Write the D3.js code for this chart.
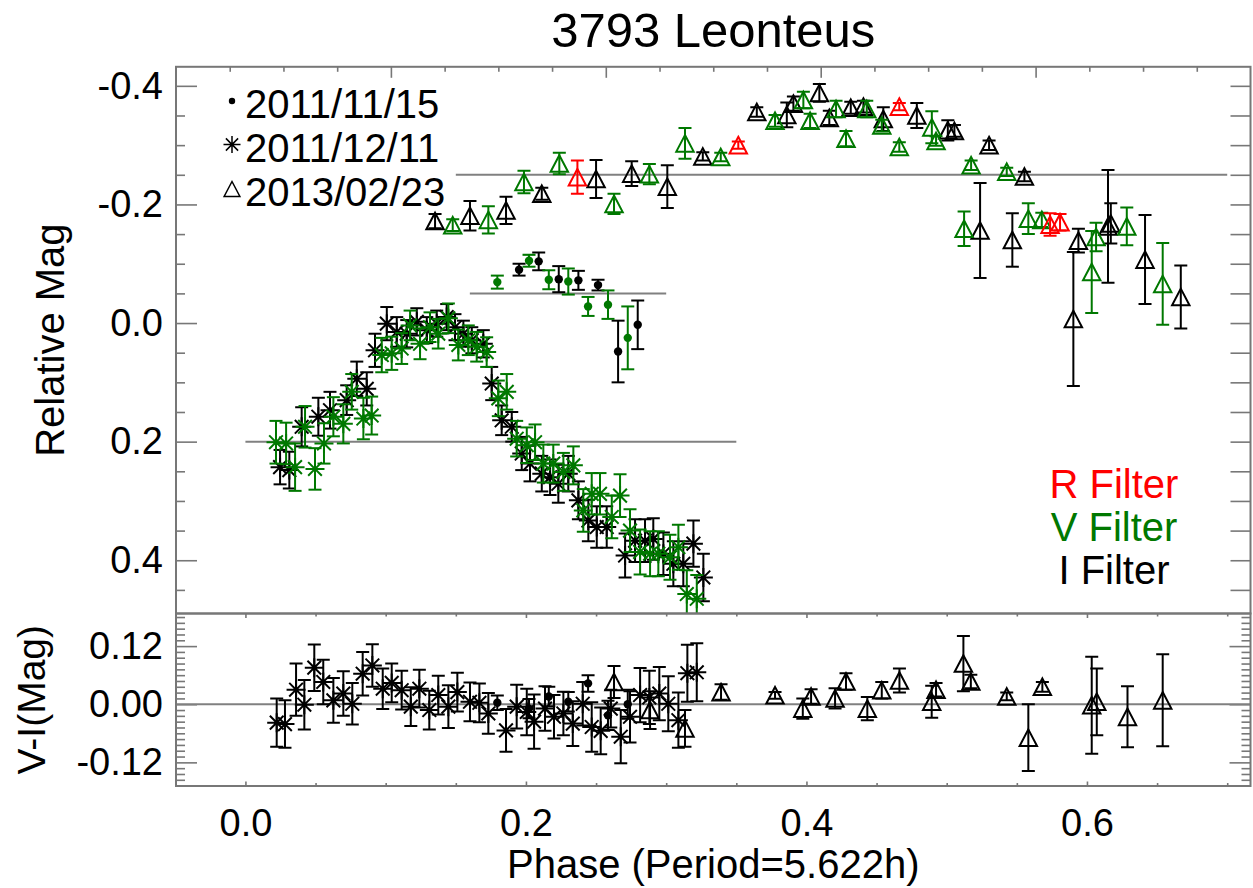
<!DOCTYPE html>
<html><head><meta charset="utf-8">
<script src="https://cdn.jsdelivr.net/npm/d3@7/dist/d3.min.js"></script>
<style>
body{margin:0;background:#fff}
svg{display:block}
text{font-family:"Liberation Sans",Arial,Helvetica,sans-serif;fill:#000}
</style>
</head><body>
<svg id="c" width="1253" height="888"></svg>
<script>
// ---------------- DATA ----------------
// 2011/12/11 (asterisks) — I filter
const astI_phase=[0.0247,0.0313,0.0401,0.052,0.0603,0.0722,0.0794,0.0865,0.0924,0.1008,0.1079,0.115,0.1222,0.1293,0.1364,0.1435,0.1494,0.1554,0.1614,0.1696,0.1756,0.1827,0.1899,0.197,0.2029,0.2113,0.2172,0.2231,0.2302,0.2374,0.2445,0.2505,0.2576,0.2707,0.2778,0.2849,0.2908,0.298,0.3051,0.3122,0.3194,0.3265];
const astI_mag=[0.243,0.248,0.175,0.158,0.147,0.130,0.094,0.111,0.046,0.001,0.015,0.018,-0.002,0.012,0.001,-0.010,0.007,0.018,0.029,0.035,0.102,0.164,0.175,0.220,0.237,0.254,0.260,0.271,0.254,0.299,0.333,0.344,0.344,0.392,0.367,0.367,0.364,0.389,0.406,0.406,0.372,0.429];
const astI_err=[0.029,0.031,0.033,0.032,0.031,0.025,0.029,0.028,0.028,0.028,0.025,0.023,0.023,0.022,0.022,0.022,0.022,0.022,0.022,0.023,0.028,0.025,0.025,0.028,0.03,0.03,0.03,0.032,0.03,0.032,0.035,0.035,0.035,0.037,0.036,0.036,0.035,0.036,0.038,0.038,0.039,0.04];
// 2011/12/11 (asterisks) — V filter
const astV_phase=[0.0218,0.029,0.0354,0.0425,0.0496,0.056,0.0627,0.0698,0.0758,0.0841,0.090,0.0972,0.1043,0.1114,0.1174,0.1245,0.1316,0.1375,0.1447,0.1518,0.1589,0.1649,0.172,0.1803,0.1863,0.1934,0.2006,0.2065,0.2124,0.2195,0.2267,0.2338,0.2409,0.2469,0.2528,0.2612,0.2671,0.2742,0.2814,0.2885,0.2944,0.3027,0.3087,0.3147,0.3218];
const astV_mag=[0.201,0.203,0.243,0.175,0.246,0.203,0.158,0.170,0.116,0.161,0.156,0.054,0.051,0.043,0.004,0.035,0.007,0.018,-0.008,0.037,0.029,0.040,0.049,0.127,0.116,0.195,0.206,0.201,0.237,0.237,0.251,0.240,0.316,0.288,0.288,0.327,0.291,0.350,0.386,0.389,0.389,0.395,0.378,0.457,0.465];
const astV_err=[0.036,0.035,0.04,0.035,0.035,0.034,0.033,0.033,0.03,0.035,0.032,0.029,0.028,0.026,0.025,0.026,0.025,0.025,0.025,0.026,0.025,0.025,0.025,0.03,0.03,0.03,0.03,0.03,0.032,0.032,0.032,0.032,0.036,0.035,0.035,0.036,0.036,0.036,0.038,0.038,0.038,0.038,0.038,0.04,0.04];
// 2011/11/15 (dots)
const dotI_phase=[0.1951,0.2091,0.2234,0.2374,0.2514,0.2657,0.2797];
const dotI_mag=[-0.090,-0.104,-0.074,-0.072,-0.064,0.048,0.003];
const dotI_err=[0.010,0.015,0.022,0.016,0.009,0.052,0.041];
const dotV_phase=[0.1796,0.2022,0.2163,0.2302,0.2443,0.2585,0.2726];
const dotV_mag=[-0.069,-0.105,-0.073,-0.070,-0.028,-0.031,0.025];
const dotV_err=[0.011,0.010,0.016,0.022,0.016,0.024,0.053];
// 2013/02/23 (triangles)
const triI_phase=[0.1352,0.1601,0.1858,0.2113,0.25,0.2754,0.3008,0.3261,0.3646,0.386,0.3907,0.4092,0.4163,0.4316,0.4406,0.4548,0.4787,0.5008,0.5055,0.5302,0.5554,0.5238,0.5468,0.5903,0.5939,0.615,0.617,0.6414,0.6669];
const triI_mag=[-0.172,-0.181,-0.190,-0.218,-0.243,-0.252,-0.230,-0.281,-0.356,-0.351,-0.370,-0.388,-0.346,-0.363,-0.365,-0.344,-0.350,-0.325,-0.324,-0.300,-0.247,-0.156,-0.140,-0.007,-0.139,-0.163,-0.168,-0.107,-0.044];
const triI_err=[0.012,0.025,0.023,0.010,0.032,0.021,0.036,0.007,0.008,0.021,0.012,0.015,0.012,0.010,0.010,0.020,0.021,0.017,0.010,0.008,0.008,0.080,0.045,0.113,0.020,0.095,0.034,0.075,0.053];
const triV_phase=[0.1478,0.1732,0.1986,0.2238,0.2628,0.288,0.3134,0.3389,0.3776,0.3978,0.4026,0.4211,0.4282,0.443,0.4537,0.4662,0.4894,0.4924,0.5124,0.5174,0.5428,0.5582,0.5678,0.6034,0.6065,0.6284,0.654];
const triV_mag=[-0.165,-0.174,-0.238,-0.269,-0.201,-0.251,-0.303,-0.280,-0.341,-0.376,-0.341,-0.361,-0.311,-0.361,-0.333,-0.297,-0.330,-0.307,-0.159,-0.266,-0.255,-0.176,-0.174,-0.086,-0.145,-0.163,-0.066];
const triV_err=[0.010,0.023,0.019,0.018,0.017,0.017,0.026,0.007,0.010,0.014,0.012,0.014,0.013,0.014,0.010,0.008,0.027,0.008,0.029,0.008,0.007,0.026,0.012,0.069,0.024,0.032,0.069];
const triR_phase=[0.2367,0.3514,0.4662,0.5737,0.5808];
const triR_mag=[-0.246,-0.300,-0.365,-0.166,-0.170];
const triR_err=[0.028,0.006,0.006,0.019,0.014];
// V-I colours
const viAst_phase=[0.0223,0.0282,0.0361,0.042,0.0491,0.0555,0.0627,0.0698,0.0762,0.0836,0.0905,0.0979,0.1043,0.1114,0.1179,0.124,0.1311,0.1375,0.1447,0.1511,0.1601,0.1668,0.1732,0.1858,0.1934,0.2006,0.2058,0.2136,0.22,0.2267,0.2334,0.2405,0.2469,0.2533,0.2605,0.2676,0.2742,0.2814,0.288,0.2951,0.3015,0.3087,0.3151,0.3218];
const viAst_val=[-0.038,-0.041,0.030,-0.001,0.0755,0.046,0.008,0.022,0.001,0.063,0.080,0.032,0.044,0.029,-0.005,0.032,-0.012,0.019,-0.005,0.025,0.005,0.003,-0.019,-0.054,-0.005,-0.016,-0.036,-0.009,-0.026,-0.019,-0.040,0.001,-0.047,-0.055,-0.009,-0.067,-0.026,0.019,0.014,0.022,0.001,-0.033,0.064,0.066];
const viAst_err=[0.050,0.049,0.054,0.051,0.048,0.046,0.046,0.046,0.043,0.045,0.044,0.042,0.040,0.040,0.040,0.039,0.040,0.040,0.044,0.040,0.040,0.040,0.042,0.044,0.045,0.048,0.056,0.046,0.045,0.045,0.046,0.045,0.051,0.048,0.039,0.055,0.053,0.056,0.055,0.055,0.057,0.057,0.059,0.060];
const viDot_phase=[0.1796,0.2022,0.2163,0.2302,0.2443,0.2585,0.2726];
const viDot_val=[0.003,-0.009,0.016,0.005,0.043,-0.023,0.000];
const viDot_err=[0.015,0.020,0.020,0.020,0.017,0.030,0.030];
const viTri_phase=[0.2628,0.2885,0.3134,0.3391,0.3776,0.3974,0.4033,0.4204,0.4282,0.4434,0.4537,0.4663,0.4893,0.4924,0.5119,0.5172,0.5428,0.5582,0.5682,0.6034,0.607,0.6289,0.654];
const viTri_val=[0.046,-0.012,-0.050,0.025,0.0185,-0.009,0.016,0.012,0.047,-0.009,0.029,0.049,0.005,0.030,0.084,0.047,0.016,-0.069,0.036,-0.002,0.005,-0.026,0.008];
const viTri_err=[0.033,0.039,0.038,0.016,0.007,0.021,0.015,0.021,0.017,0.024,0.017,0.025,0.033,0.014,0.057,0.014,0.008,0.069,0.010,0.100,0.069,0.063,0.095];
// reference (mean) lines per night
const refStart=[0.0,0.16,0.15];
const refEnd=[0.35,0.30,0.70];
const refMag=[0.2,-0.05,-0.25];
// ticks / labels
const xTickVals=[0.0,0.2,0.4,0.6];
const yTopTickVals=[-0.4,-0.2,0.0,0.2,0.4];
const yLowTickVals=[-0.12,0.0,0.12];
const legendLabels=["2011/11/15","2011/12/11","2013/02/23"];
const filterLabels=["R Filter","V Filter","I Filter"];
const filterColors=["#ff0000","#007800","#000000"];
const titleText="3793 Leonteus";

// ---------------- LAYOUT ----------------
const L=176,R=1250.5,T=66.8,MID=613.5,B=786;
const AX="#777";
const GREEN="#007800";
const svg=d3.select("#c");
const x=d3.scaleLinear().domain([-0.0495,0.7166]).range([L,R]);
const xTop=d3.scaleLinear().domain([0,1]).range([L,R]);
const yTop=d3.scaleLinear().domain([-0.4321,0.4898]).range([T,MID]);
const yLow=d3.scaleLinear().domain([0.1873,-0.1688]).range([MID,B]);

const defs=svg.append("defs");
defs.append("clipPath").attr("id","cTop").append("rect").attr("x",L).attr("y",T).attr("width",R-L).attr("height",MID-T);
defs.append("clipPath").attr("id","cLow").append("rect").attr("x",L).attr("y",MID).attr("width",R-L).attr("height",B-MID);

function range(a,b,s){const r=[];for(let v=a;v<=b+1e-9;v+=s)r.push(+v.toFixed(4));return r;}
function styleAxis(g){g.select(".domain").remove();g.selectAll(".tick line").attr("stroke",AX).attr("stroke-width",1.6);g.selectAll("text").style("font-size","38px").attr("fill","#000");}
const fmt1=v=>d3.format(".1f")(v).replace("\u2212","-");
const fmt2=v=>d3.format(".2f")(v).replace("\u2212","-");

// ---- axes top panel ----
svg.append("g").attr("transform",`translate(${L},0)`).call(d3.axisLeft(yTop).tickValues(yTopTickVals).tickSize(-21).tickPadding(13).tickFormat(fmt1)).call(styleAxis);
svg.append("g").attr("transform",`translate(${L},0)`).call(d3.axisLeft(yTop).tickValues(range(-0.4,0.45,0.05).filter(v=>Math.abs(v*5-Math.round(v*5))>1e-6)).tickSize(-9).tickFormat("")).call(styleAxis);
svg.append("g").attr("transform",`translate(${R},0)`).call(d3.axisRight(yTop).tickValues(range(-0.4,0.45,0.05)).tickSize(-20).tickFormat("")).call(styleAxis);
svg.append("g").attr("transform",`translate(0,${T})`).call(d3.axisTop(xTop).tickValues([0.2,0.4,0.6,0.8]).tickSize(-11).tickFormat("")).call(styleAxis);
svg.append("g").attr("transform",`translate(0,${T})`).call(d3.axisTop(xTop).tickValues(range(0.05,0.95,0.05).filter(v=>Math.abs(v*5-Math.round(v*5))>1e-6)).tickSize(-5).tickFormat("")).call(styleAxis);

// ---- axes lower panel ----
svg.append("g").attr("transform",`translate(${L},0)`).call(d3.axisLeft(yLow).tickValues(yLowTickVals).tickSize(-21).tickPadding(13).tickFormat(fmt2)).call(styleAxis);
const lowMinor=range(-0.168,0.18,0.012).filter(v=>Math.abs(v/0.12-Math.round(v/0.12))>1e-6);
svg.append("g").attr("transform",`translate(${L},0)`).call(d3.axisLeft(yLow).tickValues(lowMinor).tickSize(-9).tickFormat("")).call(styleAxis);
svg.append("g").attr("transform",`translate(${R},0)`).call(d3.axisRight(yLow).tickValues(yLowTickVals).tickSize(-21).tickFormat("")).call(styleAxis);
svg.append("g").attr("transform",`translate(${R},0)`).call(d3.axisRight(yLow).tickValues(lowMinor).tickSize(-9).tickFormat("")).call(styleAxis);
const xMinor=range(-0.05,0.7,0.05).filter(v=>Math.abs(v*5-Math.round(v*5))>1e-6 && v>-0.049);
svg.append("g").attr("transform",`translate(0,${B})`).call(d3.axisBottom(x).tickValues(xTickVals).tickSize(-4.5).tickPadding(23).tickFormat(fmt1)).call(styleAxis);
svg.append("g").attr("transform",`translate(0,${B})`).call(d3.axisBottom(x).tickValues(xMinor).tickSize(-3).tickFormat("")).call(styleAxis);
svg.append("g").attr("transform",`translate(0,${MID})`).call(d3.axisTop(x).tickValues(xTickVals).tickSize(-4.5).tickFormat("")).call(styleAxis);
svg.append("g").attr("transform",`translate(0,${MID})`).call(d3.axisTop(x).tickValues(xMinor).tickSize(-3).tickFormat("")).call(styleAxis);

// ---- reference lines ----
const gTop=svg.append("g").attr("clip-path","url(#cTop)");
const gLow=svg.append("g").attr("clip-path","url(#cLow)");
refMag.forEach((m,i)=>{
  gTop.append("line").attr("x1",x(refStart[i])).attr("x2",x(refEnd[i])).attr("y1",yTop(m)).attr("y2",yTop(m)).attr("stroke","#808080").attr("stroke-width",2);
});
gLow.append("line").attr("x1",L).attr("x2",R).attr("y1",yLow(0)).attr("y2",yLow(0)).attr("stroke","#808080").attr("stroke-width",2);

// ---- marker helpers ----
function errbar(g,cx,y0,y1,col){
  g.append("line").attr("x1",cx).attr("x2",cx).attr("y1",y0).attr("y2",y1).attr("stroke",col).attr("stroke-width",2);
  [y0,y1].forEach(yy=>g.append("line").attr("x1",cx-6.5).attr("x2",cx+6.5).attr("y1",yy).attr("y2",yy).attr("stroke",col).attr("stroke-width",2));
}
function asterisk(g,cx,cy,s,col,w){
  const d=s*0.72;
  g.append("path").attr("d",`M${cx},${cy-s}L${cx},${cy+s}M${cx-s},${cy}L${cx+s},${cy}M${cx-d},${cy-d}L${cx+d},${cy+d}M${cx-d},${cy+d}L${cx+d},${cy-d}`).attr("stroke",col).attr("stroke-width",w).attr("fill","none");
}
function triangle(g,cx,cy,s,col,w){
  g.append("path").attr("d",`M${cx},${cy-s}L${cx+s*1.05},${cy+s}L${cx-s*1.05},${cy+s}Z`).attr("stroke",col).attr("stroke-width",w).attr("fill","none");
}
function dot(g,cx,cy,r,col){g.append("circle").attr("cx",cx).attr("cy",cy).attr("r",r).attr("fill",col);}

function series(g,ys,ph,val,err,col,kind){
  ph.forEach((p,i)=>{
    const cx=x(p),cy=ys(val[i]);
    errbar(g,cx,ys(val[i]-err[i]),ys(val[i]+err[i]),col);
    if(kind==="ast")asterisk(g,cx,cy,9.5,col,2);
    else if(kind==="tri")triangle(g,cx,cy,8.3,col,2);
    else dot(g,cx,cy,4.2,col);
  });
}
// top panel
series(gTop,yTop,astI_phase,astI_mag,astI_err,"#000","ast");
series(gTop,yTop,astV_phase,astV_mag,astV_err,GREEN,"ast");
series(gTop,yTop,dotI_phase,dotI_mag,dotI_err,"#000","dot");
series(gTop,yTop,dotV_phase,dotV_mag,dotV_err,GREEN,"dot");
series(gTop,yTop,triI_phase,triI_mag,triI_err,"#000","tri");
series(gTop,yTop,triV_phase,triV_mag,triV_err,GREEN,"tri");
series(gTop,yTop,triR_phase,triR_mag,triR_err,"#ff0000","tri");
// lower panel
series(gLow,yLow,viAst_phase,viAst_val,viAst_err,"#000","ast");
series(gLow,yLow,viDot_phase,viDot_val,viDot_err,"#000","dot");
series(gLow,yLow,viTri_phase,viTri_val,viTri_err,"#000","tri");

// ---- frames ----
svg.append("rect").attr("x",L).attr("y",T).attr("width",R-L).attr("height",MID-T).attr("fill","none").attr("stroke",AX).attr("stroke-width",2);
svg.append("rect").attr("x",L).attr("y",MID).attr("width",R-L).attr("height",B-MID).attr("fill","none").attr("stroke",AX).attr("stroke-width",2);

// ---- titles ----
svg.append("text").attr("x",(L+R)/2).attr("y",47).attr("text-anchor","middle").style("font-size","49px").text(titleText);
svg.append("text").attr("x",(L+R)/2).attr("y",878).attr("text-anchor","middle").style("font-size","40px").text("Phase (Period=5.622h)");
svg.append("text").attr("transform",`translate(64,${(T+MID)/2}) rotate(-90)`).attr("text-anchor","middle").style("font-size","40px").text("Relative Mag");
svg.append("text").attr("transform",`translate(45,${(MID+B)/2}) rotate(-90)`).attr("text-anchor","middle").style("font-size","39px").text("V-I(Mag)");

// ---- legend ----
const legY=[101,144.5,189];
const legBase=[118.3,162.3,205.7];
dot(svg,232,legY[0],3.2,"#000");
asterisk(svg,232,legY[1],8.5,"#000",1.5);
triangle(svg,232,legY[2],7.5,"#000",1.5);
legendLabels.forEach((t,i)=>svg.append("text").attr("x",245).attr("y",legBase[i]).style("font-size","40px").text(t));
// ---- filter labels ----
const filtBase=[498.3,540.7,584];
filterLabels.forEach((t,i)=>svg.append("text").attr("x",1114).attr("y",filtBase[i]).attr("text-anchor","middle").style("font-size","40px").style("fill",filterColors[i]).text(t));
</script>
</body></html>
